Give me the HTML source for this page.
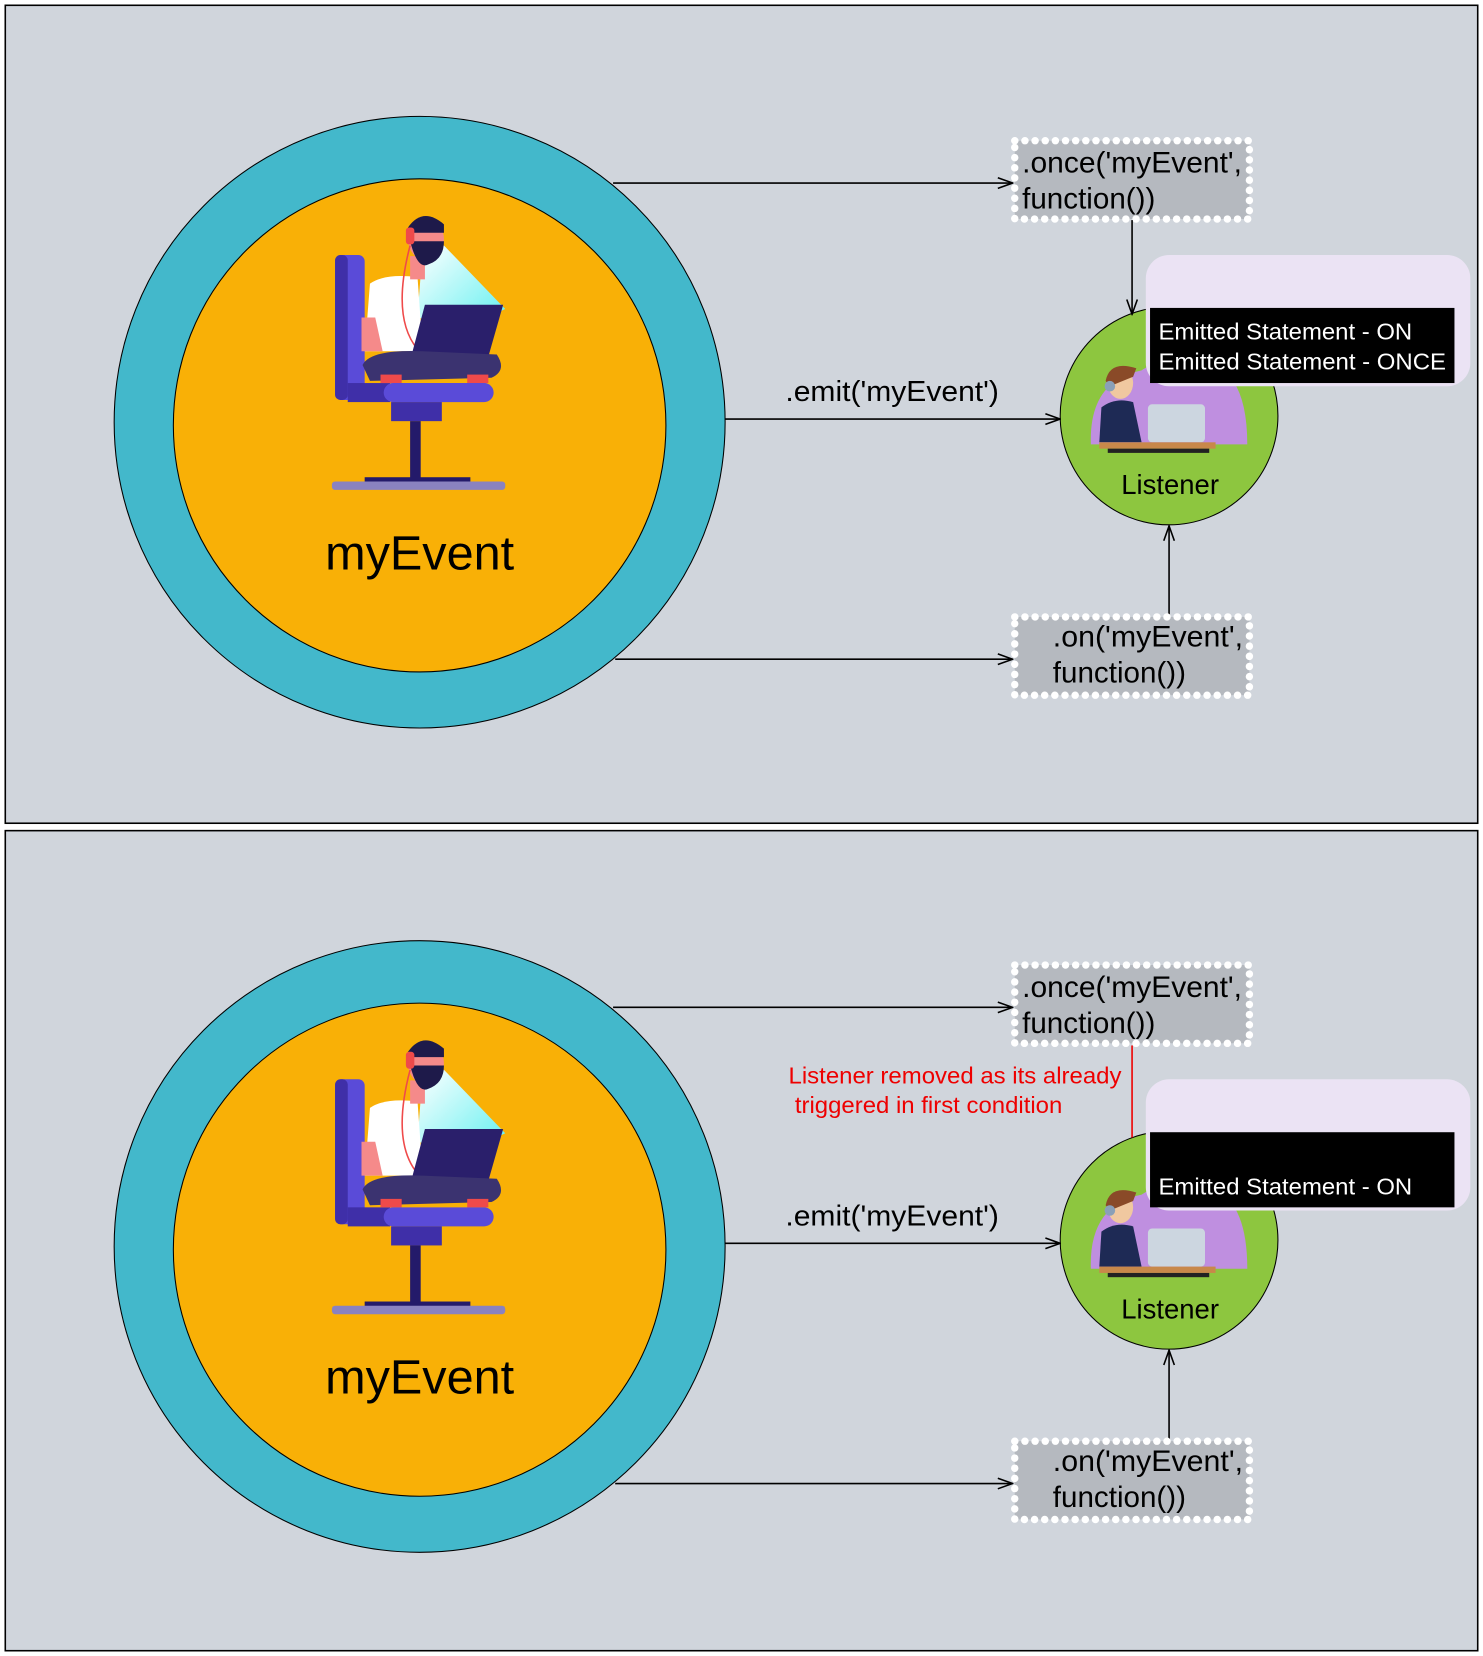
<!DOCTYPE html>
<html><head><meta charset="utf-8"><style>
html,body{margin:0;padding:0;background:#fff;}
svg{display:block;}
text{font-family:"Liberation Sans",Arial,sans-serif;}
</style></head><body>
<svg width="1483" height="1656" viewBox="0 0 1403 1565" preserveAspectRatio="none" xmlns="http://www.w3.org/2000/svg">
<defs>
<marker id="ar" markerWidth="16" markerHeight="12" refX="15" refY="6" orient="auto" markerUnits="userSpaceOnUse">
<path d="M1,1 L15,6 L1,11" fill="none" stroke="#000" stroke-width="1.5"/>
</marker>
<linearGradient id="beam" x1="0" y1="0" x2="1" y2="1">
<stop offset="0" stop-color="#ffffff"/><stop offset="1" stop-color="#5ff0f0"/>
</linearGradient>
<g id="guy">
<polygon points="400,232 420,232 478,292 440,310 395,300" fill="url(#beam)"/>
<rect x="317" y="241" width="28" height="137" rx="6" fill="#5a4bd8"/>
<rect x="317" y="241" width="12" height="137" rx="5" fill="#3f2fa8"/>
<rect x="329" y="362" width="40" height="18" fill="#3f2fa8"/>
<path d="M350,268 Q365,258 395,262 L400,332 L345,332 Z" fill="#ffffff"/>
<path d="M342,300 L355,300 L362,332 L342,332 Z" fill="#f58a8a"/>
<rect x="388" y="242" width="14" height="22" fill="#f58a8a"/>
<ellipse cx="403" cy="226" rx="17" ry="20" fill="#f58a8a"/>
<path d="M388,228 Q395,255 405,250 Q420,245 420,228 Z" fill="#1e1a4a"/>
<path d="M386,215 Q400,195 420,212 L420,220 L386,220 Z" fill="#1e1a4a"/>
<rect x="384" y="215" width="8" height="16" rx="3" fill="#ef4a4a"/>
<path d="M388,232 Q370,300 395,330" fill="none" stroke="#ef4a4a" stroke-width="1.5"/>
<polygon points="402,288 476,288 462,337 389,337" fill="#2a1f6b"/>
<path d="M343,345 Q350,330 400,332 L470,335 Q480,350 465,357 L350,360 Z" fill="#3b3370"/>
<rect x="360" y="354" width="20" height="8" fill="#ef4a4a"/>
<rect x="442" y="354" width="20" height="8" fill="#ef4a4a"/>
<rect x="363" y="362" width="104" height="18" rx="9" fill="#5a4bd8"/>
<rect x="370" y="380" width="48" height="18" fill="#3f2fa8"/>
<rect x="388" y="398" width="10" height="57" fill="#241a6a"/>
<rect x="345" y="451" width="100" height="5" fill="#241a6a"/>
<rect x="314" y="455" width="164" height="8" rx="3" fill="#8a82c0"/>
</g>
<g id="lis">
<path d="M1032,420 Q1030,360 1080,350 Q1110,330 1150,345 Q1180,360 1180,420 Z" fill="#bf8fe0"/>
<rect x="1086" y="382" width="54" height="36" rx="4" fill="#ccd6e0"/>
<path d="M1040,418 L1042,385 Q1055,375 1072,380 L1080,418 Z" fill="#1e2a55"/>
<ellipse cx="1060" cy="362" rx="12" ry="15" fill="#f0c8a0"/>
<path d="M1046,360 Q1050,340 1075,348 L1072,356 L1050,365 Z" fill="#8a4a28"/>
<circle cx="1050" cy="365" r="5" fill="#8aa0b8"/>
<rect x="1040" y="418" width="110" height="6" fill="#c8884a"/>
<rect x="1048" y="424" width="96" height="4" fill="#222"/>
</g>
<g id="panel">
<circle cx="397" cy="399" r="289" fill="#43b8cb" stroke="#000" stroke-width="1"/>
<circle cx="397" cy="402" r="233" fill="#f9b006" stroke="#000" stroke-width="1"/>
<use href="#guy"/>
<circle cx="1106" cy="393" r="103" fill="#8dc63f" stroke="#000" stroke-width="1"/>
<use href="#lis"/>
<line x1="580" y1="173" x2="958" y2="173" stroke="#000" stroke-width="1.5" marker-end="url(#ar)"/>
<line x1="686" y1="396" x2="1003" y2="396" stroke="#000" stroke-width="1.5" marker-end="url(#ar)"/>
<line x1="582" y1="623" x2="958" y2="623" stroke="#000" stroke-width="1.5" marker-end="url(#ar)"/>
<line x1="1106" y1="581" x2="1106" y2="497" stroke="#000" stroke-width="1.5" marker-end="url(#ar)"/>
<rect x="960" y="133" width="222" height="74" fill="#b5b9bf" stroke="#fff" stroke-width="7" stroke-dasharray="0.1 9.5" stroke-linecap="round"/>
<rect x="960" y="583" width="222" height="74" fill="#b5b9bf" stroke="#fff" stroke-width="7" stroke-dasharray="0.1 9.5" stroke-linecap="round"/>
<rect x="1084" y="241" width="307" height="124" rx="22" fill="#ebe3f4"/>
<text x="967" y="163" font-size="28" textLength="208" lengthAdjust="spacingAndGlyphs">.once('myEvent',</text>
<text x="967" y="197" font-size="28">function())</text>
<text x="996" y="611" font-size="28" textLength="180" lengthAdjust="spacingAndGlyphs">.on('myEvent',</text>
<text x="996" y="645" font-size="28">function())</text>
<text x="743" y="379" font-size="27" textLength="202" lengthAdjust="spacingAndGlyphs">.emit('myEvent')</text>
<text x="1107" y="467" font-size="26" text-anchor="middle">Listener</text>
<text x="397" y="538" font-size="46" text-anchor="middle">myEvent</text>
</g>
</defs>
<rect x="5" y="5" width="1393" height="773" fill="#d0d5dc" stroke="#000" stroke-width="1.5"/>
<rect x="5" y="785" width="1393" height="775" fill="#d0d5dc" stroke="#000" stroke-width="1.5"/>
<use href="#panel"/>
<line x1="1071" y1="208" x2="1071" y2="297" stroke="#000" stroke-width="1.5" marker-end="url(#ar)"/>
<rect x="1088" y="291" width="288" height="71" fill="#000"/>
<text x="1096" y="321" font-size="22" fill="#fff" textLength="240" lengthAdjust="spacingAndGlyphs">Emitted Statement - ON</text>
<text x="1096" y="349" font-size="22" fill="#fff" textLength="272" lengthAdjust="spacingAndGlyphs">Emitted Statement - ONCE</text>
<g transform="translate(0,779)"><use href="#panel"/></g>
<line x1="1071" y1="988" x2="1071" y2="1075" stroke="#e00" stroke-width="1.5"/>
<text x="746" y="1024" font-size="22" fill="#e00" textLength="315" lengthAdjust="spacingAndGlyphs">Listener removed as its already</text>
<text x="752" y="1052" font-size="22" fill="#e00" textLength="253" lengthAdjust="spacingAndGlyphs">triggered in first condition</text>
<rect x="1088" y="1070" width="288" height="71" fill="#000"/>
<text x="1096" y="1129" font-size="22" fill="#fff" textLength="240" lengthAdjust="spacingAndGlyphs">Emitted Statement - ON</text>
</svg>
</body></html>
